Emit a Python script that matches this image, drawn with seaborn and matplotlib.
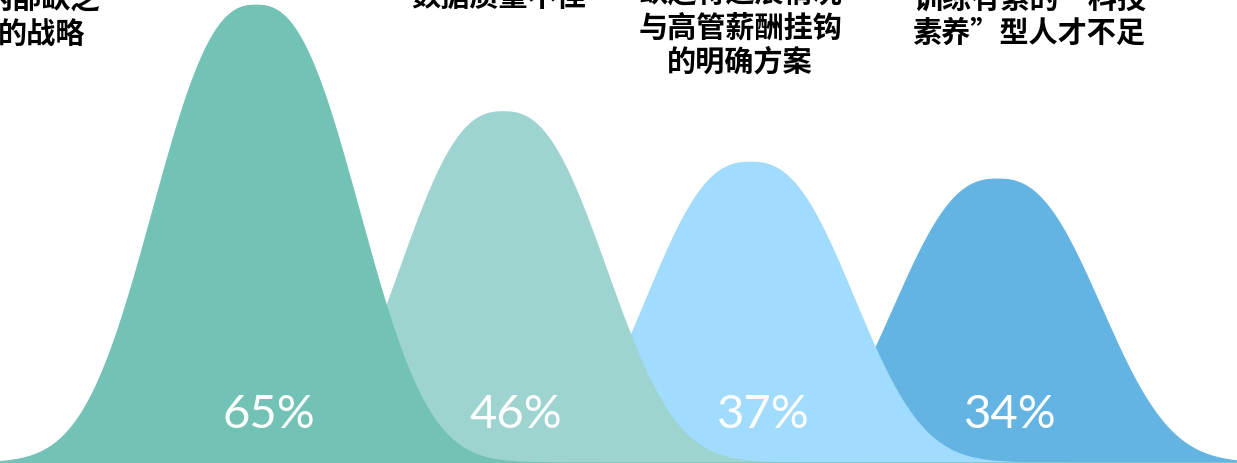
import numpy as np
import pandas as pd
import matplotlib
matplotlib.use("Agg")
import matplotlib.pyplot as plt
import seaborn as sns

# ---- data ----
categories = [
    "内部缺乏\n的战略",
    "数据质量不佳",
    "缺乏将进展情况\n与高管薪酬挂钩\n的明确方案",
    "训练有素的“科技\n素养”型人才不足",
]
values = [65, 46, 37, 34]
value_labels = ["65%", "46%", "37%", "34%"]

# ---- styling / layout ----
colors = ["#72C3B5", "#9ED4CF", "#A1DBFD", "#64B4E3"]
label_x = [-0.866, 0.983, 1.958, 3.127]        # category label centres (x data units)
label_bottom_px = [49, 12, 77, 48]              # bottom of each label block, px from top
fig_w_px, fig_h_px = 1237, 464
y_floor = -16.6                                  # hidden axis floor the bells rise from
y_top = 66.1
bell_width = 0.514
bell_power = 2.5

sns.set_theme(style="white")
plt.rcParams["font.family"] = ["Noto Sans CJK SC", "DejaVu Sans"]

fig = plt.figure(figsize=(fig_w_px / 100, fig_h_px / 100), dpi=100)
ax = fig.add_axes([0, 0, 1, 1])

# bell-shaped mountain for each category, peak height = value
xs = np.linspace(-1.3, 4.3, 1400)
frames = []
for i, (cat, v) in enumerate(zip(categories, values)):
    bell = np.exp(-(np.abs(xs - i) / bell_width) ** bell_power)
    frames.append(pd.DataFrame({"x": xs, "y": y_floor + (v - y_floor) * bell, "cat": cat}))
curves = pd.concat(frames, ignore_index=True)

# first category in front, last one at the back
for i in reversed(range(len(categories))):
    sub = curves[curves["cat"] == categories[i]]
    z = 10 + 2 * (len(categories) - i)
    ax.fill_between(sub["x"], y_floor, sub["y"], color=colors[i], lw=0, zorder=z)
    sns.lineplot(data=sub, x="x", y="y", color=colors[i], lw=0.8, ax=ax,
                 legend=False, zorder=z + 1, sort=False, estimator=None)

# white percentage figures near the base
for i, txt in enumerate(value_labels):
    ax.text(i + 0.05, 1 - 428 / fig_h_px, txt, transform=ax.get_xaxis_transform(),
            ha="center", va="baseline", color="white", fontsize=34,
            family=["Lato", "DejaVu Sans"], zorder=50)

# category captions above the peaks
for i, cat in enumerate(categories):
    ax.text(label_x[i], 1 - label_bottom_px[i] / fig_h_px, cat,
            transform=ax.get_xaxis_transform(), ha="center", va="bottom",
            multialignment="center", fontsize=21, fontweight="bold",
            color="black", linespacing=1.19, zorder=60)

ax.set_xlim(-1.036, 3.968)
ax.set_ylim(y_floor, y_top)
ax.axis("off")

fig.savefig("out.png", dpi=100)
